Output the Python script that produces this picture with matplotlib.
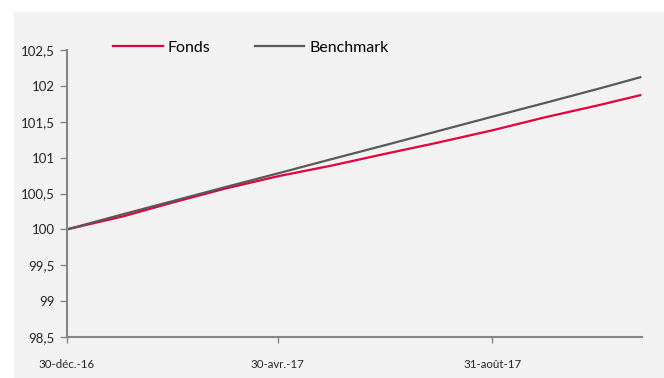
import numpy as np
import pandas as pd
import matplotlib
matplotlib.use("Agg")
import matplotlib.pyplot as plt
from matplotlib.patches import Rectangle

# dates de fin de mois
dates = pd.to_datetime(["2016-12-30", "2017-01-31", "2017-02-28", "2017-03-31",
                        "2017-04-30", "2017-05-31", "2017-06-30", "2017-07-31",
                        "2017-08-31", "2017-09-30", "2017-10-31", "2017-11-24"])
fonds = [100.00, 100.18, 100.37, 100.57, 100.74, 100.89,
         101.05, 101.21, 101.38, 101.56, 101.73, 101.87]
benchmark = [100.00, 100.21, 100.39, 100.59, 100.78, 100.98,
             101.17, 101.37, 101.57, 101.76, 101.96, 102.12]

# graduations
yticks = [98.5, 99, 99.5, 100, 100.5, 101, 101.5, 102, 102.5]
ylabels = ["98,5", "99", "99,5", "100", "100,5", "101", "101,5", "102", "102,5"]
xticks = pd.to_datetime(["2016-12-30", "2017-04-30", "2017-08-31"])
xlabels = ["30-déc.-16", "30-avr.-17", "31-août-17"]

plt.rcParams['font.family'] = ['Lato', 'DejaVu Sans']

fig = plt.figure(figsize=(6.64, 3.78), dpi=100)
fig.patch.set_facecolor("white")
fig.patches.append(Rectangle((14/664, 0), 1, 1 - 12/378, transform=fig.transFigure,
                             color="#f2f2f2", zorder=-1))
ax = fig.add_axes([67/664, 41/378, 575/664, 287/378])
ax.set_facecolor("none")

ax.plot(dates, fonds, color="#e4003a", lw=1.6, label="Fonds")
ax.plot(dates, benchmark, color="#595959", lw=1.6, label="Benchmark")

ax.set_ylim(98.5, 102.5)
ax.set_xlim(pd.Timestamp("2016-12-30"), pd.Timestamp("2017-11-25"))
ax.set_yticks(yticks)
ax.set_yticklabels(ylabels)
ax.set_xticks(xticks)
ax.set_xticklabels(xlabels)

for s in ["top", "right"]:
    ax.spines[s].set_visible(False)
for s in ["left", "bottom"]:
    ax.spines[s].set_color("#868686")
    ax.spines[s].set_linewidth(1.5)
ax.tick_params(axis="y", colors="#868686", labelcolor="#262626", length=5,
               width=1, labelsize=9.5, pad=4)
ax.tick_params(axis="x", colors="#868686", labelcolor="#262626", length=4,
               width=1, labelsize=8.3, pad=11.5)

fig.legend(loc="center left", bbox_to_anchor=(113/664, 1 - 48/378), ncol=2,
           frameon=False, fontsize=11.5, handlelength=3.1, handletextpad=0.3,
           columnspacing=2.8, borderpad=0, borderaxespad=0)

fig.savefig("out.png", dpi=100)
